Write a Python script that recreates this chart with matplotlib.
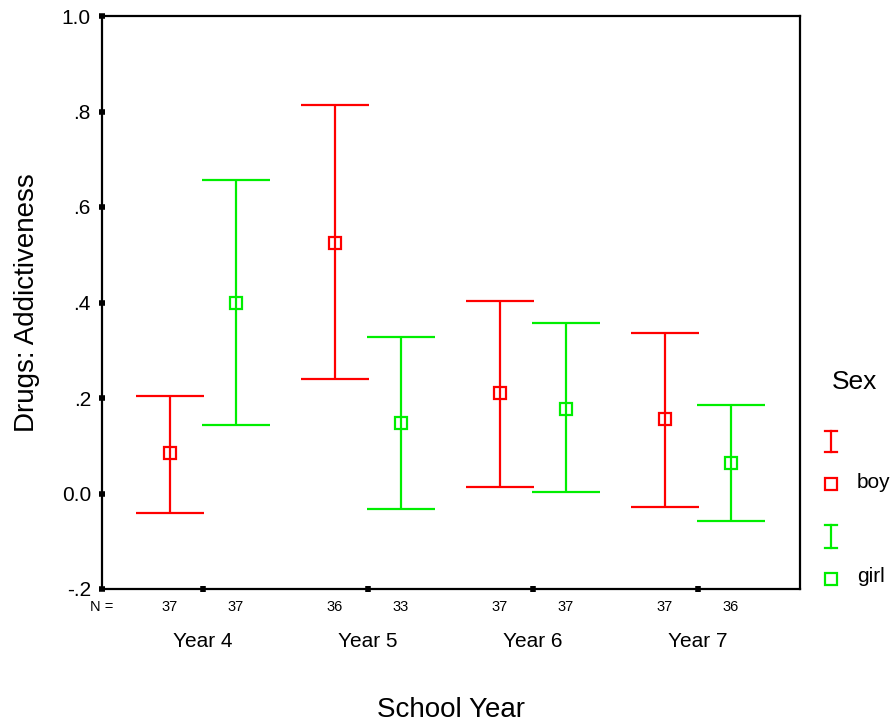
import matplotlib
matplotlib.use('Agg')
import matplotlib.pyplot as plt
from matplotlib.lines import Line2D

plt.rcParams['font.family'] = ['Liberation Sans', 'DejaVu Sans']

years = ['Year 4', 'Year 5', 'Year 6', 'Year 7']
boy_mean = [0.085, 0.525, 0.210, 0.156]
boy_low = [-0.041, 0.240, 0.014, -0.028]
boy_high = [0.204, 0.814, 0.403, 0.336]
girl_mean = [0.399, 0.148, 0.177, 0.064]
girl_low = [0.143, -0.032, 0.003, -0.058]
girl_high = [0.657, 0.328, 0.357, 0.185]
boy_n = [37, 36, 37, 37]
girl_n = [37, 33, 37, 36]
yticks = [-0.2, 0.0, 0.2, 0.4, 0.6, 0.8, 1.0]
ytick_labels = ['-.2', '0.0', '.2', '.4', '.6', '.8', '1.0']

red = '#ff0000'
green = '#00ee00'
off = 0.2
cap = 0.206

fig = plt.figure(figsize=(8.96, 7.24), dpi=100)
ax = fig.add_axes([102 / 896, 135 / 724, 698 / 896, 573 / 724])

x = list(range(1, len(years) + 1))
series = [
    (boy_mean, boy_low, boy_high, boy_n, red, -off),
    (girl_mean, girl_low, girl_high, girl_n, green, off),
]
for mean, low, high, n, col, dx in series:
    xs = [v + dx for v in x]
    ax.vlines(xs, low, high, color=col, lw=1.6, zorder=2)
    ax.hlines(low, [v - cap for v in xs], [v + cap for v in xs], color=col, lw=1.6)
    ax.hlines(high, [v - cap for v in xs], [v + cap for v in xs], color=col, lw=1.6)
    ax.plot(xs, mean, ls='none', marker='s', ms=8.5, mfc='none', mec=col, mew=1.6, zorder=3)
    for xv, nv in zip(xs, n):
        ax.text(xv, -0.031, str(nv), transform=ax.get_xaxis_transform(),
                ha='center', va='center', fontsize=10.5)

ax.text(0.0, -0.031, 'N =', transform=ax.transAxes, ha='center', va='center', fontsize=10.5)
for xv, lab in zip(x, years):
    ax.text(xv, -0.091, lab, transform=ax.get_xaxis_transform(),
            ha='center', va='center', fontsize=15)

ax.set_xlim(0.388, 4.618)
ax.set_ylim(-0.2, 1.0)
ax.set_yticks(yticks)
ax.set_yticklabels(ytick_labels, fontsize=15)
ax.set_xticks(x)
ax.set_xticklabels([])
ax.tick_params(axis='both', direction='inout', length=4, width=4, color='black', pad=6)
for s in ax.spines.values():
    s.set_linewidth(1.6)

ax.set_xlabel('School Year', fontsize=20)
ax.xaxis.set_label_coords(0.5, -0.188)
ax.set_ylabel('Drugs: Addictiveness', fontsize=20)
ax.yaxis.set_label_coords(-0.089, 0.5)

# legend drawn by hand at the right side
W, H = 896, 724
def fx(px):
    return px / W
def fy(py):
    return 1 - py / H

fig.text(fx(855), fy(382), 'Sex', ha='center', va='center', fontsize=19)
for col, ytop, ybot, ysq, lab in [(red, 431, 452, 484, 'boy'), (green, 525, 548, 579, 'girl')]:
    fig.add_artist(Line2D([fx(831)] * 2, [fy(ytop), fy(ybot)], color=col, lw=1.6))
    for yy in (ytop, ybot):
        fig.add_artist(Line2D([fx(825), fx(837)], [fy(yy)] * 2, color=col, lw=1.6))
    fig.add_artist(Line2D([fx(831)], [fy(ysq)], marker='s', ms=8, mfc='none', mec=col, mew=1.6))
    fig.text(fx(857), fy(ysq - 2), lab, ha='left', va='center', fontsize=15)

fig.savefig('out.png', dpi=100)
